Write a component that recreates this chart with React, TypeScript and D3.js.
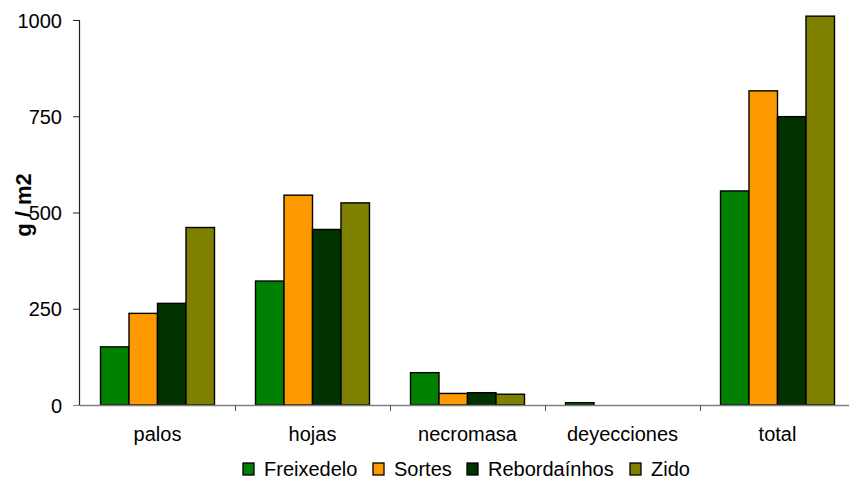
import React from "react";
import * as d3 from "d3";

const categories = ["palos", "hojas", "necromasa", "deyecciones", "total"];
const seriesNames = ["Freixedelo", "Sortes", "Rebordaínhos", "Zido"];
const seriesColors = ["#008000", "#FF9900", "#003300", "#808000"];
const freixedelo = [151, 322, 84, 6, 556];
const sortes = [238, 545, 30, 0, 816];
const rebordainhos = [264, 456, 32, 0, 749];
const zido = [461, 525, 28, 0, 1010];
const yTicks = [0, 250, 500, 750, 1000];

const W = 849;
const H = 481;
const left = 80;
const right = 855;
const top = 20;
const bottom = 405;
const FONT = "'Liberation Sans', Arial, sans-serif";

export default function App() {
  const series = [freixedelo, sortes, rebordainhos, zido];
  const x = d3.scaleBand<string>().domain(categories).range([left, right]).padding(0);
  const xi = d3
    .scaleBand<string>()
    .domain(seriesNames)
    .range([0, x.bandwidth()])
    .paddingInner(0)
    .paddingOuter(0.72);
  const y = d3.scaleLinear().domain([0, 1000]).range([bottom, top]);

  const legendX = [243, 373, 467, 630];

  return (
    <svg
      width={W}
      height={H}
      style={{ position: "absolute", left: 0, top: 0, background: "#fff" }}
      fontFamily={FONT}
    >
      {categories.map((c, ci) =>
        seriesNames.map((s, si) => {
          const v = series[si][ci];
          if (!v) return null;
          const bx = (x(c) as number) + (xi(s) as number);
          return (
            <rect
              key={c + s}
              x={bx}
              y={y(v)}
              width={xi.bandwidth()}
              height={bottom - y(v)}
              fill={seriesColors[si]}
              stroke="#000"
              strokeWidth={1.4}
            />
          );
        })
      )}
      <line x1={left} x2={W} y1={bottom + 0.5} y2={bottom + 0.5} stroke="#808080" strokeWidth={1.3} />
      {categories.slice(1).map((c) => (
        <line
          key={"xt" + c}
          x1={(x(c) as number) + 0.5}
          x2={(x(c) as number) + 0.5}
          y1={bottom}
          y2={bottom + 6}
          stroke="#555"
          strokeWidth={1}
        />
      ))}
      {categories.map((c) => (
        <text
          key={"xl" + c}
          x={(x(c) as number) + x.bandwidth() / 2}
          y={441}
          textAnchor="middle"
          fontSize={20}
          fill="#000"
        >
          {c}
        </text>
      ))}
      <line x1={left - 0.5} x2={left - 0.5} y1={top} y2={bottom} stroke="#222" strokeWidth={1.2} />
      {yTicks.map((t) => (
        <g key={"yt" + t}>
          <line x1={left - 7} x2={left} y1={y(t) + 0.5} y2={y(t) + 0.5} stroke={t === 0 ? "#808080" : "#222"} strokeWidth={1} />
          <text x={62} y={y(t) + 7.5} textAnchor="end" fontSize={20} fill="#000">
            {t}
          </text>
        </g>
      ))}
      <text
        transform={`translate(31,205) rotate(-90)`}
        textAnchor="middle"
        fontSize={22}
        fontWeight="bold"
        fill="#000"
      >
        g / m2
      </text>
      {seriesNames.map((s, si) => (
        <g key={"lg" + s}>
          <rect x={legendX[si]} y={463} width={11} height={12} fill={seriesColors[si]} stroke="#000" strokeWidth={1.3} />
          <text x={legendX[si] + 21} y={476} fontSize={20} fill="#000">
            {s}
          </text>
        </g>
      ))}
    </svg>
  );
}
